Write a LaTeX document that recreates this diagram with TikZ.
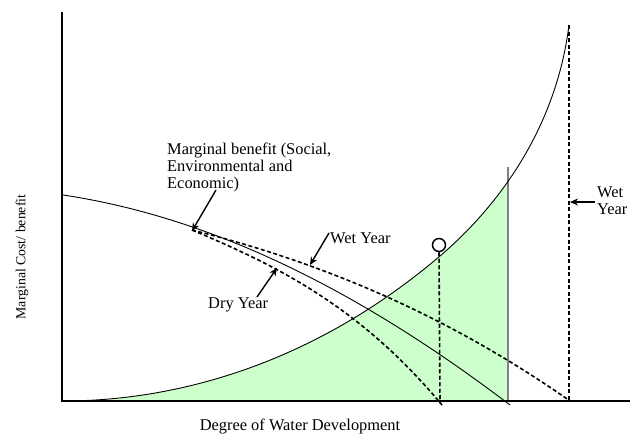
\documentclass[tikz,border=0pt]{standalone}
\usepackage{fontspec}
\setmainfont{Liberation Serif}
\usetikzlibrary{arrows.meta}
\definecolor{fillgreen}{RGB}{204,255,204}
\begin{document}
\begin{tikzpicture}[x=1pt,y=-1pt,
  axis/.style={line width=1.2pt},
  thincurve/.style={line width=0.9pt},
  dashcurve/.style={line width=1.6pt, dash pattern=on 4pt off 2.5pt},
  pointer/.style={line width=1.4pt, -{Stealth[length=8pt,width=7pt]}},
  lbl/.style={inner sep=0pt, font=\fontsize{16.4}{17}\selectfont, align=left}]
\path[use as bounding box] (0,0) rectangle (633,434);
\def\mccurve{(63,401) .. controls (173,401) and (310,366.5) .. (440,256) .. controls (480,222) and (554,145) .. (569,25)}
% green area
\begin{scope}
\clip (62,0) rectangle (508,401);
\fill[fillgreen] \mccurve -- (569,401) -- cycle;
\end{scope}
\draw[gray, line width=1.5pt] (508,167) -- (508,401);
% axes
\coordinate (ytop) at (62,12);
\coordinate (origin) at (62,401);
\coordinate (xend) at (630,401);
\draw[axis] (ytop) -- (origin) -- (xend);
% marginal cost
\draw[thincurve] \mccurve;
% marginal benefit
\draw[thincurve] (63,195) .. controls (213,217.5) and (360,291) .. (510,405);
% wet year dashed
\draw[dashcurve] (192,230) .. controls (318,261.5) and (444,312.8) .. (570,401);
% dry year dashed
\draw[dashcurve] (192,230) .. controls (275,264.9) and (359,305.4) .. (442,405);
% verticals
\node[draw, circle, line width=1.5pt, minimum size=13pt, inner sep=0pt] (opt) at (439,245) {};
\coordinate (optb) at (440,403);
\draw[dashcurve] (opt.south) -- (optb);
\coordinate (wtop) at (569,25);
\coordinate (wbot) at (569,401);
\draw[dashcurve] (wtop) -- (wbot);
% labels
\node[lbl, anchor=north west] (mb) at (167,143) {Marginal benefit (Social,\\Environmental and\\Economic)};
\node[lbl, anchor=base west] (wet1) at (330,243) {Wet Year};
\node[lbl, anchor=base west] (dry) at (208,308) {Dry Year};
\node[lbl, anchor=north west] (wet2) at (597,187) {Wet\\Year};
\node[inner sep=0pt, font=\fontsize{13.8}{15}\selectfont, rotate=90] (ylab) at (22,257) {Marginal Cost/ benefit};
\node[lbl, anchor=base] (xlab) at (300,430) {Degree of Water Development};
% pointers
\coordinate (mbt) at (216,190);
\coordinate (mbh) at (192,231);
\draw[pointer] (mbt) -- (mbh);
\coordinate (w1t) at (329,233);
\coordinate (w1h) at (310,265);
\draw[pointer] (w1t) -- (w1h);
\coordinate (dt) at (257,297);
\coordinate (dh) at (277,268);
\draw[pointer] (dt) -- (dh);
\coordinate (w2t) at (595,202);
\coordinate (w2h) at (570,202);
\draw[pointer] (w2t) -- (w2h);
\end{tikzpicture}
\end{document}
